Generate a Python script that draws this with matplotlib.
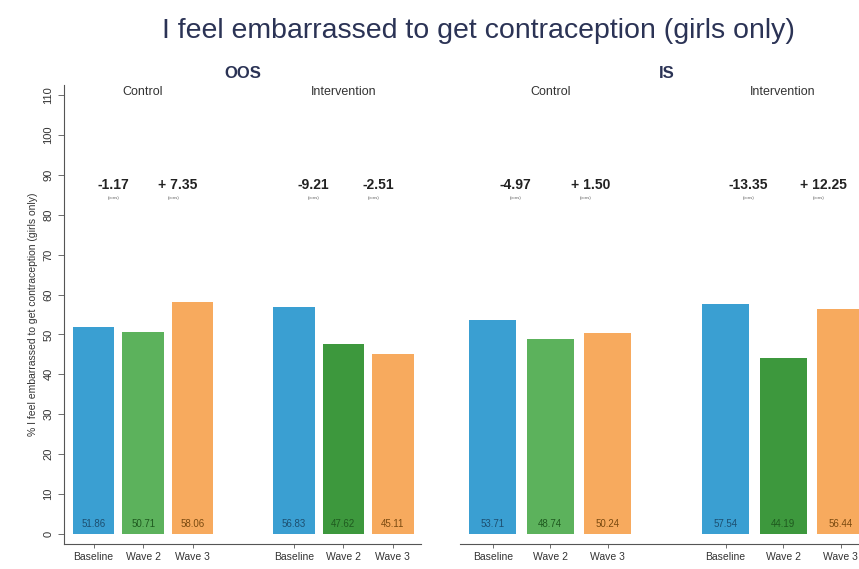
import numpy as np
import matplotlib.pyplot as plt

plt.rcParams['font.family'] = ['Liberation Sans', 'DejaVu Sans']

waves = ['Baseline', 'Wave 2', 'Wave 3']
groups = ['Control', 'Intervention']
oos_control = [51.86, 50.71, 58.06]
oos_interv = [56.83, 47.62, 45.11]
is_control = [53.71, 48.74, 50.24]
is_interv = [57.54, 44.19, 56.44]
oos_diffs = [['-1.17', '+ 7.35'], ['-9.21', '-2.51']]
is_diffs = [['-4.97', '+ 1.50'], ['-13.35', '+ 12.25']]

blue = '#3a9fd2'
green_c = '#5cb25c'
green_i = '#3d983d'
orange = '#f7aa5e'
txt_dark = ['#1d4f70', '#1f5a1f', '#7a4a10']
navy = '#2b3355'

fig = plt.figure(figsize=(8.59, 5.69), dpi=100)
fig.text(0.557, 0.945, 'I feel embarrassed to get contraception (girls only)',
         ha='center', va='center', fontsize=20.5, color=navy)

bot = 25 / 569
hgt = 459 / 569
ax1 = fig.add_axes([64 / 859, bot, (421 - 64) / 859, hgt])
ax2 = fig.add_axes([460 / 859, bot, (859 - 460) / 859, hgt])


def draw_panel(ax, ctrl, interv, diffs, title, width, xlim):
    x0 = np.arange(3)
    x1 = x0 + 4.05
    for xs, vals, gcol, gname, d in [(x0, ctrl, green_c, groups[0], diffs[0]),
                                     (x1, interv, green_i, groups[1], diffs[1])]:
        cols = [blue, gcol, orange]
        ax.bar(xs, vals, width=width, color=cols)
        for xi, v, tc in zip(xs, vals, txt_dark):
            ax.text(xi, 2.6, '%.2f' % v, ha='center', va='center',
                    fontsize=7, color=tc)
        ax.text(xs[1], 110.8, gname, ha='center', va='center', fontsize=9,
                color='#333333', clip_on=False)
        ax.text(xs[0] + 0.4, 87.5, d[0], ha='center', va='center',
                fontsize=10, fontweight='bold', color='#222222')
        ax.text(xs[1] + 0.7, 87.5, d[1], ha='center', va='center',
                fontsize=10, fontweight='bold', color='#222222')
        for xx in [xs[0] + 0.4, xs[1] + 0.62]:
            ax.text(xx, 84.3, '(p=ns)', ha='center', va='center',
                    fontsize=3, color='#555555')
    ax.text((x0[1] + x1[1]) / 2, 115.3, title, ha='center', va='center',
            fontsize=12, fontweight='bold', color=navy, clip_on=False)
    ax.set_xticks(np.concatenate([x0, x1]))
    ax.set_xticklabels(waves * 2, fontsize=7.5, color='#333333')
    ax.tick_params(axis='x', length=3, width=0.6, color='#555555', pad=3)
    ax.set_xlim(*xlim)
    ax.set_ylim(-2.5, 112.5)
    for s in ['top', 'right']:
        ax.spines[s].set_visible(False)
    ax.spines['bottom'].set_color('#555555')
    ax.spines['bottom'].set_linewidth(0.8)


draw_panel(ax1, oos_control, oos_interv, oos_diffs, 'OOS', 0.84, (-0.6, 6.62))
draw_panel(ax2, is_control, is_interv, is_diffs, 'IS', 0.82, (-0.57, 6.37))

ax1.set_yticks(np.arange(0, 111, 10))
ax1.set_yticklabels([str(v) for v in range(0, 111, 10)], rotation=90,
                    va='center', fontsize=8, color='#333333')
ax1.tick_params(axis='y', length=4, width=0.6, color='#555555')
ax1.spines['left'].set_color('#555555')
ax1.spines['left'].set_linewidth(0.8)
ax1.set_ylabel('% I feel embarrassed to get contraception (girls only)',
               fontsize=7.5, color='#333333', labelpad=4)

ax2.spines['left'].set_visible(False)
ax2.set_yticks([])

fig.savefig('out.png', dpi=100)
